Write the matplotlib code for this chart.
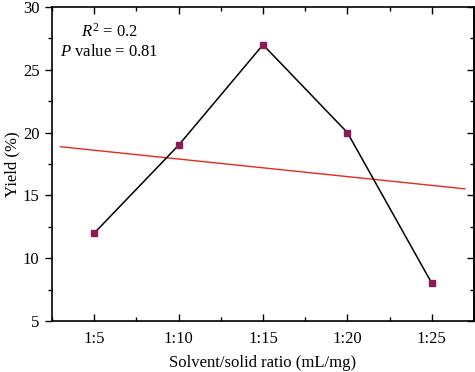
import matplotlib
matplotlib.use("Agg")
import matplotlib.pyplot as plt
import numpy as np
from matplotlib.ticker import MultipleLocator

categories = ["1:5", "1:10", "1:15", "1:20", "1:25"]
yields = [12, 19, 27, 20, 8]
r2_text = "0.2"
p_text = "0.81"

plt.rcParams['font.family'] = ['Liberation Serif', 'DejaVu Serif']
plt.rcParams['mathtext.fontset'] = 'custom'
plt.rcParams['mathtext.rm'] = 'Liberation Serif'
plt.rcParams['mathtext.it'] = 'Liberation Serif:italic'

FS = 12

fig = plt.figure(figsize=(4.75, 3.72), dpi=100)
ax = fig.add_axes([0.1095, 0.137, 0.8885, 0.844])

x = np.arange(len(categories))
ax.plot(x, yields, color='black', lw=1.1, marker='s', markersize=5,
        markerfacecolor='#8B1A55', markeredgecolor='#8B1A55', zorder=3)

slope, intercept = np.polyfit(x, yields, 1)
xf = np.array([-0.4, 4.39])
ax.plot(xf, slope * xf + intercept, color='#E8291C', lw=1.0, zorder=2)

ax.set_xlim(-0.5, 4.5)
ax.set_ylim(5, 30)
ax.set_xticks(x)
ax.set_xticklabels(categories)
ax.xaxis.set_minor_locator(MultipleLocator(0.5))
ax.yaxis.set_major_locator(MultipleLocator(5))
ax.yaxis.set_minor_locator(MultipleLocator(2.5))

ax.tick_params(axis='x', which='both', direction='in', top=True, bottom=True, labelsize=FS, width=1.0, pad=7)
ax.tick_params(axis='y', which='both', direction='out', left=True, right=False, labelsize=FS, width=1.0, pad=4)
ax.tick_params(which='major', length=5)
ax.tick_params(which='minor', length=3)
for sp in ax.spines.values():
    sp.set_linewidth(1.2)

ax2 = ax.secondary_yaxis('right')
ax2.yaxis.set_major_locator(MultipleLocator(5))
ax2.yaxis.set_minor_locator(MultipleLocator(2.5))
ax2.tick_params(axis='y', which='both', direction='in', labelright=False, width=1.0)
ax2.tick_params(which='major', length=5)
ax2.tick_params(which='minor', length=3)
ax2.spines['right'].set_linewidth(1.2)

ax.set_xlabel("Solvent/solid ratio (mL/mg)", fontsize=FS, labelpad=6)
ax.set_ylabel("Yield (%)", fontsize=FS, labelpad=2)

ax.text(0.137, 0.92, "$R^2$ = " + r2_text, transform=ax.transAxes, ha='center', va='center', fontsize=FS)
ax.text(0.135, 0.857, "$P$ value = " + p_text, transform=ax.transAxes, ha='center', va='center', fontsize=FS)

fig.savefig("out.png", dpi=100)
